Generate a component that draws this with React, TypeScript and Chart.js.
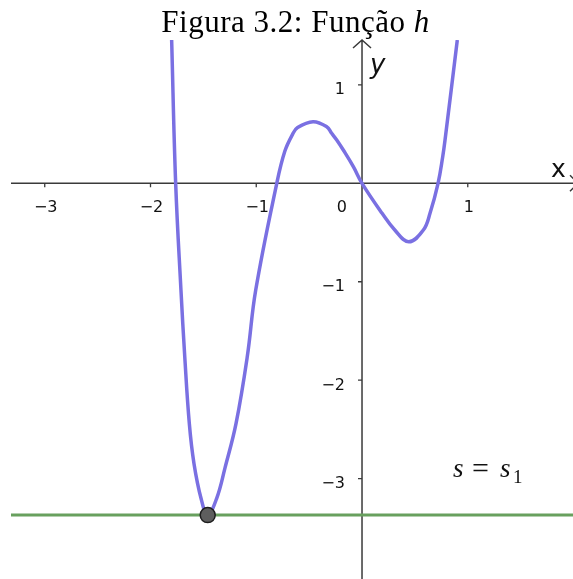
import React, { useEffect, useRef } from 'react';
import { Chart, registerables } from 'chart.js';

Chart.register(...registerables);

// Curve h(x), points
const curveX = [
  -1.800, -1.762, -1.712, -1.676, -1.633, -1.589, -1.520, -1.459,
  -1.374, -1.296, -1.191, -1.085, -1.005, -0.806, -0.730, -0.658,
  -0.609, -0.463, -0.334, -0.287, -0.239, -0.177, -0.082, 0.000,
  0.190, 0.310, 0.442, 0.580, 0.643, 0.719, 0.763, 0.785, 0.901,
];
const curveY = [
  1.456, 0.000, -1.084, -1.762, -2.439, -2.846, -3.210, -3.371,
  -3.200, -2.893, -2.439, -1.762, -1.084, 0.000, 0.325, 0.495,
  0.566, 0.626, 0.575, 0.508, 0.440, 0.338, 0.169, 0.000,
  -0.305, -0.475, -0.594, -0.475, -0.305, 0.000, 0.270, 0.440, 1.456,
];

// Horizontal line s = s1 and the marked point
const lineY = -3.371;
const lineX = [-3.319, 1.995];
const pointX = [-1.459];
const pointY = [-3.371];

// Axes
const xRange = [-3.319, 1.995];
const yRange = [-4.02, 1.456];
const xTickValues = [-3, -2, -1, 1];
const xTickLabels = ['−3', '−2', '−1', '1'];
const yTickValues = [1, -1, -2, -3];
const yTickLabels = ['1', '−1', '−2', '−3'];
const originLabel = '0';

const AXIS_COLOR = '#3a3a3a';
const CURVE_COLOR = '#7a70e2';
const LINE_COLOR = '#68a05e';
const LABEL_FONT = '16px "DejaVu Sans"';

const geoAxes = {
  id: 'geoAxes',
  beforeDatasetsDraw(chart: any) {
    const { ctx, chartArea, scales } = chart;
    const xs = scales.x;
    const ys = scales.y;
    const x0 = xs.getPixelForValue(0);
    const y0 = ys.getPixelForValue(0);
    ctx.save();
    ctx.strokeStyle = AXIS_COLOR;
    ctx.lineWidth = 1.5;
    ctx.beginPath();
    const ax = chartArea.right + 5;
    ctx.moveTo(chartArea.left, y0);
    ctx.lineTo(ax, y0);
    ctx.moveTo(x0, chartArea.bottom);
    ctx.lineTo(x0, chartArea.top);
    // arrow heads
    ctx.moveTo(x0 - 9, chartArea.top + 8);
    ctx.lineTo(x0, chartArea.top);
    ctx.lineTo(x0 + 9, chartArea.top + 8);
    ctx.moveTo(ax - 8, y0 - 8);
    ctx.lineTo(ax, y0);
    ctx.lineTo(ax - 8, y0 + 8);
    ctx.stroke();

    // ticks
    ctx.lineWidth = 1.3;
    ctx.beginPath();
    xTickValues.forEach((v) => {
      const px = xs.getPixelForValue(v);
      ctx.moveTo(px, y0);
      ctx.lineTo(px, y0 + 4);
    });
    yTickValues.forEach((v) => {
      const py = ys.getPixelForValue(v);
      ctx.moveTo(x0, py);
      ctx.lineTo(x0 - 4, py);
    });
    ctx.stroke();

    // tick labels
    ctx.fillStyle = '#111';
    ctx.font = LABEL_FONT;
    ctx.textBaseline = 'alphabetic';
    ctx.textAlign = 'center';
    xTickValues.forEach((v, i) => {
      const px = xs.getPixelForValue(v);
      ctx.fillText(xTickLabels[i], px + 1, y0 + 29);
    });
    ctx.textAlign = 'right';
    ctx.fillText(originLabel, x0 - 15, y0 + 29);
    yTickValues.forEach((v, i) => {
      const py = ys.getPixelForValue(v);
      ctx.fillText(yTickLabels[i], x0 - 17, py + 9.5);
    });

    // axis names
    ctx.textAlign = 'left';
    ctx.font = '25px "DejaVu Sans"';
    ctx.fillText('x', 551, y0 - 6);
    ctx.font = 'italic 26px "DejaVu Sans"';
    ctx.fillText('y', x0 + 8, chartArea.top + 33);

    // s = s1 label
    ctx.font = 'italic 27px "Liberation Serif"';
    ctx.fillText('s', 453, 477);
    ctx.font = '30px "Liberation Serif"';
    ctx.fillText('=', 472, 478);
    ctx.font = 'italic 27px "Liberation Serif"';
    ctx.fillText('s', 500, 477);
    ctx.font = '19px "Liberation Serif"';
    ctx.fillText('1', 513, 483);
    ctx.restore();
  },
};

export default function App() {
  const canvasRef = useRef<HTMLCanvasElement | null>(null);

  useEffect(() => {
    const canvas = canvasRef.current;
    if (!canvas) return;
    const chart = new Chart(canvas, {
      type: 'line',
      data: {
        datasets: [
          {
            label: 'ponto',
            data: pointX.map((x, i) => ({ x, y: pointY[i] })),
            showLine: false,
            pointRadius: 7.5,
            pointBackgroundColor: '#5e5e5e',
            pointBorderColor: '#1e1e1e',
            pointBorderWidth: 1.5,
            order: 0,
          },
          {
            label: 'h',
            data: curveX.map((x, i) => ({ x, y: curveY[i] })),
            borderColor: CURVE_COLOR,
            borderWidth: 3.5,
            pointRadius: 0,
            cubicInterpolationMode: 'default',
            tension: 0.4,
            fill: false,
            order: 1,
          },
          {
            label: 's',
            data: lineX.map((x) => ({ x, y: lineY })),
            borderColor: LINE_COLOR,
            borderWidth: 3,
            pointRadius: 0,
            fill: false,
            order: 2,
          },
        ],
      },
      options: {
        animation: false,
        responsive: false,
        devicePixelRatio: 1,
        layout: { autoPadding: false, padding: { left: 11, top: 40, right: 0, bottom: 0 } },
        scales: {
          x: { type: 'linear', min: xRange[0], max: xRange[1], display: false },
          y: { type: 'linear', min: yRange[0], max: yRange[1], display: false },
        },
        plugins: {
          legend: { display: false },
          tooltip: { enabled: false },
          title: { display: false },
        },
      },
      plugins: [geoAxes],
    } as any);
    return () => chart.destroy();
  }, []);

  return (
    <div
      style={{
        position: 'fixed',
        left: 0,
        top: 0,
        width: 573,
        height: 579,
        background: '#fff',
        overflow: 'hidden',
      }}
    >
      <canvas ref={canvasRef} width={573} height={579} style={{ display: 'block' }} />
      <div
        style={{
          position: 'absolute',
          left: 0,
          top: 6,
          width: 591,
          textAlign: 'center',
          fontFamily: '"Liberation Serif", serif',
          fontSize: 31,
          lineHeight: '31px',
          letterSpacing: '0.5px',
          whiteSpace: 'nowrap',
          color: '#000',
        }}
      >
        Figura 3.2: Função <i>h</i>
      </div>
    </div>
  );
}
